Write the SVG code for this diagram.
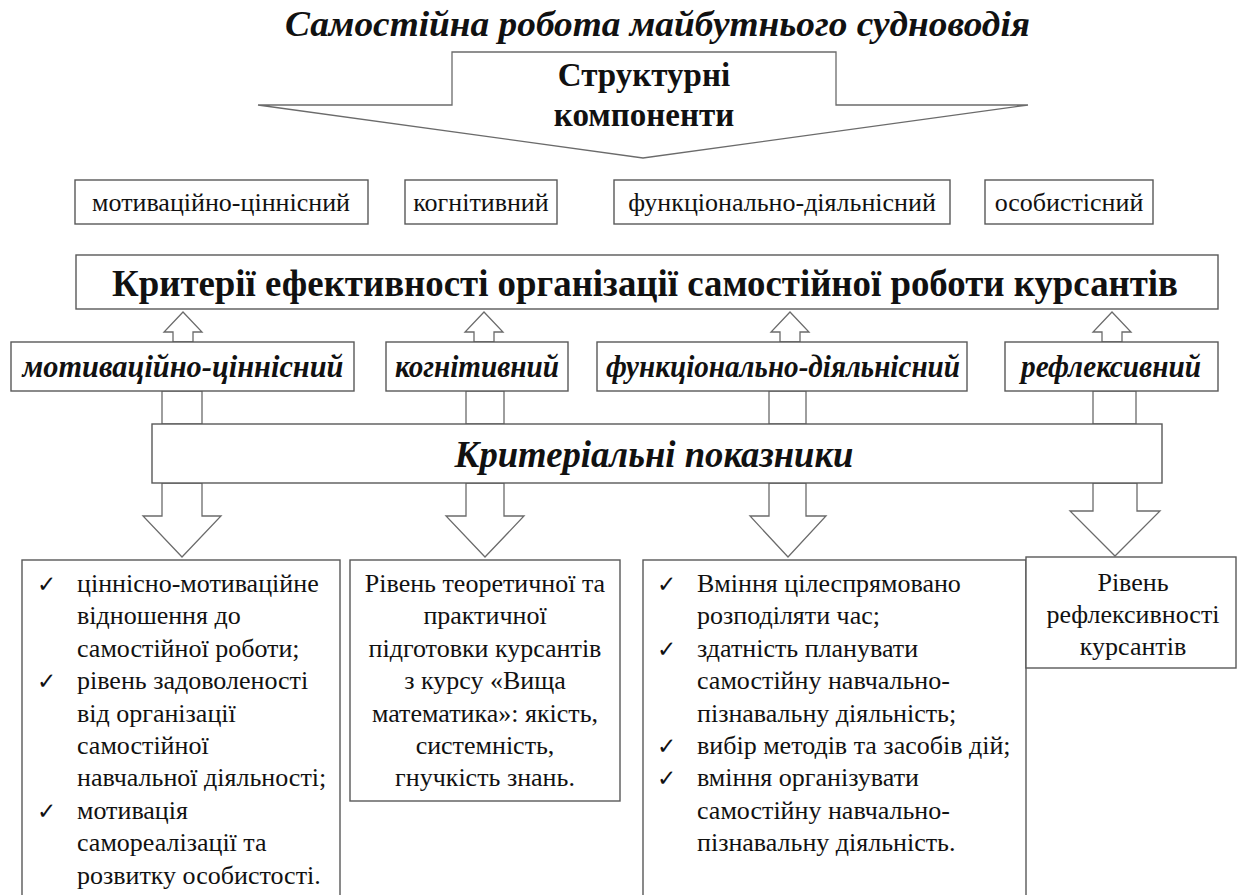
<svg xmlns="http://www.w3.org/2000/svg" width="1239" height="895" viewBox="0 0 1239 895">
<style>
.bx{fill:#fff;stroke:#595959;stroke-width:1.4}
.ar{fill:#fff;stroke:#6b6b6b;stroke-width:1.3}
.t{font-family:"Liberation Serif","Times New Roman",serif;fill:#111}
.n{font-size:26px}
.c{text-anchor:middle}
.bi{font-weight:bold;font-style:italic}
.b{font-weight:bold}
.ck{font-family:"DejaVu Sans",sans-serif;font-size:23px;fill:#111}
</style>
<rect width="1239" height="895" fill="#fff"/>
<g id="title">
<text class="t bi" x="285" y="36" font-size="35" textLength="745" lengthAdjust="spacingAndGlyphs">Самостійна робота майбутнього судноводія</text>
</g>
<g id="connectors">
<polygon class="ar" points="452,52 836,52 836,105 1028,105 643,158 258,105 452,105"/>
<polygon class="ar" points="183,312 202,332 193,332 193,342 173,342 173,332 164,332"/>
<polygon class="ar" points="484,312 503,332 494,332 494,342 474,342 474,332 465,332"/>
<polygon class="ar" points="790,312 809,332 800,332 800,342 780,342 780,332 771,332"/>
<polygon class="ar" points="1112,312 1131,332 1122,332 1122,342 1102,342 1102,332 1093,332"/>
<rect class="ar" x="162" y="391" width="40" height="33"/>
<rect class="ar" x="466" y="391" width="38" height="33"/>
<rect class="ar" x="769" y="391" width="37" height="33"/>
<rect class="ar" x="1093" y="391" width="43" height="33"/>
<polygon class="ar" points="162,483 202,483 202,516 221,516 182,557 143,516 162,516"/>
<polygon class="ar" points="466,483 504,483 504,516 524,516 485,557 446,516 466,516"/>
<polygon class="ar" points="769,483 806,483 806,516 826,516 788,557 750,516 769,516"/>
<polygon class="ar" points="1093,483 1137,483 1137,511 1160,511 1115,556 1070,511 1093,511"/>
</g>
<g id="structural-label">
<text class="t b c" x="644" y="86" font-size="33">Структурні</text>
<text class="t b c" x="644" y="126" font-size="33">компоненти</text>
</g>
<g id="comp1"><rect class="bx" x="75" y="180" width="293" height="44"/><text class="t n c" x="221" y="211">мотиваційно-ціннісний</text></g>
<g id="comp2"><rect class="bx" x="405" y="180" width="152" height="44"/><text class="t n c" x="481" y="211">когнітивний</text></g>
<g id="comp3"><rect class="bx" x="614" y="180" width="336" height="44"/><text class="t n c" x="782" y="211">функціонально-діяльнісний</text></g>
<g id="comp4"><rect class="bx" x="985" y="180" width="168" height="44"/><text class="t n c" x="1069" y="211">особистісний</text></g>
<g id="criteria">
<rect class="bx" x="76" y="255" width="1142" height="54"/>
<text class="t b" x="112" y="296" font-size="38" textLength="1066" lengthAdjust="spacingAndGlyphs">Критерії ефективності організації самостійної роботи  курсантів</text>
</g>
<g id="crit1"><rect class="bx" x="11" y="342" width="343" height="49"/><text class="t bi c" x="183" y="377" font-size="31" textLength="321" lengthAdjust="spacingAndGlyphs">мотиваційно-ціннісний</text></g>
<g id="crit2"><rect class="bx" x="386" y="342" width="182" height="49"/><text class="t bi c" x="477" y="377" font-size="31" textLength="164" lengthAdjust="spacingAndGlyphs">когнітивний</text></g>
<g id="crit3"><rect class="bx" x="597" y="342" width="370" height="49"/><text class="t bi c" x="783" y="377" font-size="31" textLength="354" lengthAdjust="spacingAndGlyphs">функціонально-діяльнісний</text></g>
<g id="crit4"><rect class="bx" x="1005" y="342" width="213" height="49"/><text class="t bi c" x="1111" y="377" font-size="31" textLength="180" lengthAdjust="spacingAndGlyphs">рефлексивний</text></g>
<g id="indicators">
<rect class="bx" x="152" y="424" width="1010" height="59"/>
<text class="t bi c" x="654" y="467" font-size="37" textLength="399" lengthAdjust="spacingAndGlyphs">Критеріальні показники</text>
</g>
<g id="ind1">
<rect class="bx" x="22" y="560" width="318" height="345"/>
<text class="ck" x="37" y="592">✓</text>
<text class="ck" x="37" y="689">✓</text>
<text class="ck" x="37" y="819">✓</text>
<text class="t n" x="77"><tspan x="77" y="592">ціннісно-мотиваційне</tspan><tspan x="77" y="624">відношення до</tspan><tspan x="77" y="657">самостійної роботи;</tspan><tspan x="77" y="689">рівень задоволеності</tspan><tspan x="77" y="722">від організації</tspan><tspan x="77" y="754">самостійної</tspan><tspan x="77" y="786">навчальної діяльності;</tspan><tspan x="77" y="819">мотивація</tspan><tspan x="77" y="851">самореалізації та</tspan><tspan x="77" y="884">розвитку особистості.</tspan></text>
</g>
<g id="ind2">
<rect class="bx" x="350" y="560" width="270" height="241"/>
<text class="t n c"><tspan x="485" y="592">Рівень теоретичної та</tspan><tspan x="485" y="624">практичної</tspan><tspan x="485" y="657">підготовки курсантів</tspan><tspan x="485" y="689">з курсу «Вища</tspan><tspan x="485" y="722">математика»: якість,</tspan><tspan x="485" y="754">системність,</tspan><tspan x="485" y="786">гнучкість знань.</tspan></text>
</g>
<g id="ind3">
<rect class="bx" x="643" y="560" width="383" height="345"/>
<text class="ck" x="657" y="592">✓</text>
<text class="ck" x="657" y="657">✓</text>
<text class="ck" x="657" y="754">✓</text>
<text class="ck" x="657" y="786">✓</text>
<text class="t n"><tspan x="697" y="592">Вміння цілеспрямовано</tspan><tspan x="697" y="624">розподіляти час;</tspan><tspan x="697" y="657">здатність планувати</tspan><tspan x="697" y="689">самостійну навчально-</tspan><tspan x="697" y="722">пізнавальну діяльність;</tspan><tspan x="697" y="754">вибір методів та засобів дій;</tspan><tspan x="697" y="786">вміння організувати</tspan><tspan x="697" y="819">самостійну навчально-</tspan><tspan x="697" y="851">пізнавальну діяльність.</tspan></text>
</g>
<g id="ind4">
<rect class="bx" x="1026" y="557" width="210" height="111"/>
<text class="t n c"><tspan x="1133" y="591">Рівень</tspan><tspan x="1133" y="623">рефлексивності</tspan><tspan x="1133" y="655">курсантів</tspan></text>
</g>
</svg>
